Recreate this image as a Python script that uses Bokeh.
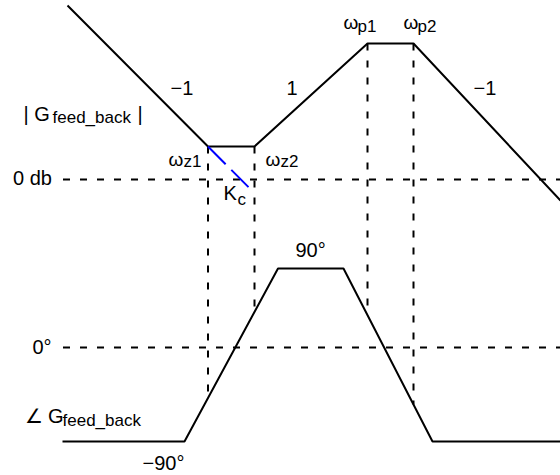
import numpy as np
from bokeh.plotting import figure
from bokeh.models import Range1d, ColumnDataSource
from bokeh.core.properties import value
from bokeh.embed import file_html
from bokeh.resources import INLINE

# Corner frequencies (horizontal position of each break)
omega_names = ["z1", "z2", "p1", "p2"]
omega_pos = [207.5, 254.0, 367.0, 413.0]

# Asymptotic magnitude sketch: level above the 0 db line
mag_x = [67.0, 207.5, 254.0, 367.0, 413.0, 560.0]
mag_level = [174.0, 33.0, 33.0, 136.0, 136.0, -21.0]
slope_labels = ["\u22121", "1", "\u22121"]

# Asymptotic phase sketch, in degrees
phase_x = [62.0, 184.0, 277.5, 343.0, 432.0, 560.0]
phase_deg = [-90, -90, 90, 90, -90, -90]

# Vertical placement of the phase panel (degrees -> drawing level)
phase_ref_deg = [-90, 0, 90]
phase_ref_level = [-262.0, -168.0, -89.0]

# Compensator gain line Kc: continuation of the -1 asymptote past omega_z1
kc_end_x = 248.0

def phase_level(deg):
    return np.interp(deg, phase_ref_deg, phase_ref_level)

phase_lvl = phase_level(np.array(phase_deg, dtype=float))

p = figure(width=560, height=475, output_backend="svg", toolbar_location=None,
           x_range=Range1d(0, 560), y_range=Range1d(-296, 179),
           x_axis_location=None, y_axis_location=None, min_border=0)
p.grid.visible = False
p.outline_line_color = None
p.background_fill_color = "white"
p.border_fill_color = "white"

BLACK = "#000000"
DASH = "7 10"

# Reference lines: 0 db and 0 degrees
p.segment(x0=[62.5, 62.5], y0=[0.0, phase_level(0)], x1=[560, 560],
          y1=[0.0, phase_level(0)], line_color=BLACK, line_width=2,
          line_dash=DASH)

# Vertical guides from the magnitude corners down to the phase curve
om = np.array(omega_pos)
p.segment(x0=om, y0=np.interp(om, mag_x, mag_level), x1=om,
          y1=np.interp(om, phase_x, phase_lvl), line_color=BLACK,
          line_width=2, line_dash=DASH)

# Magnitude and phase asymptotes
p.line(mag_x, mag_level, line_color=BLACK, line_width=2)
p.line(phase_x, phase_lvl, line_color=BLACK, line_width=2)

# Kc line (dashed blue)
slope0 = (mag_level[0] - mag_level[1]) / (mag_x[1] - mag_x[0])
kc_y0 = mag_level[1]
kc_y1 = kc_y0 - slope0 * (kc_end_x - omega_pos[0])
p.line([omega_pos[0], kc_end_x], [kc_y0, kc_y1], line_color="#0000ff",
       line_width=2, line_dash="25 8")

FONT = value("Liberation Sans")
TOP = 179.0    # level of the top edge of the drawing
RAISE = 7.5    # lift applied to every label row


def put(texts, xs, baselines, size):
    src = ColumnDataSource(dict(x=list(xs),
                                y=[TOP - b + RAISE for b in baselines],
                                t=list(texts)))
    p.text(x="x", y="y", text="t", source=src, text_font=FONT,
           text_font_size=size, text_color=BLACK, text_align="left",
           text_baseline="alphabetic")


# Main-size labels
put(slope_labels + ["| G", "|", "0 db", "0\u00b0", "90\u00b0", "\u221290\u00b0",
                    "\u2220 G", "K"],
    [170, 286, 473, 23, 137, 12.5, 32, 295, 142, 24, 223],
    [95, 95, 95, 121, 121, 184.5, 354, 257, 470, 423, 200], "20px")

# Omega symbols at each corner frequency
put(["\u03c9"] * 4, [168, 265, 343, 403], [166, 166, 29.5, 29.5], "19px")

# Subscripts
put(omega_names + ["feed_back", "feed_back", "c"],
    [183, 280, 357, 417, 52, 62, 237],
    [168.5, 168.5, 33, 33, 124, 427, 206], "17px")

open("out.html", "w").write(file_html(p, INLINE))
